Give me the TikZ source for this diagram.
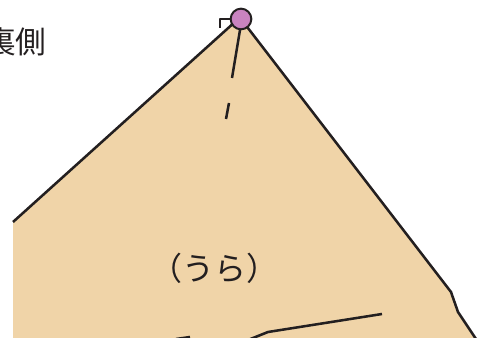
\documentclass[tikz,border=0pt]{standalone}
\usepackage{fontspec}
\newfontfamily\cjk{Noto Sans CJK JP}
\definecolor{paper}{HTML}{F0D4A8}
\definecolor{ink}{HTML}{231F20}
\definecolor{pin}{HTML}{C983C0}
\begin{document}
\begin{tikzpicture}[x=0.75pt,y=-0.75pt,
  edge/.style={draw=ink,line width=1.9pt,line join=round},
  label/.style={font=\cjk\fontsize{23pt}{23pt}\selectfont,text=ink,inner sep=0pt}]
\useasboundingbox (0,0) rectangle (479,338);
\clip (0,0) rectangle (479,338);
% paper fill
\fill[paper] (13,338) -- (13,222) -- (236,21) -- (241,19) -- (451,292) -- (458,312) -- (476,339) -- cycle;
% outline
\draw[edge] (13,222) -- (236,21);
\draw[edge] (241,19) -- (451,292) -- (458,312) -- (476,339);
% small corner marker
\draw[edge,line width=1.5pt] (220,28) -- (220,19) -- (232,19);
% fold lines
\coordinate (c) at (241,19);
\draw[edge] (240,30) -- (232,78);
\draw[edge] (229,103) -- (226,119);
\draw[edge] (248,340) -- (268,332) -- (382,314);
\draw[edge] (176,339) -- (190,337);
% pin
\node[circle,draw=ink,line width=1.5pt,fill=pin,minimum size=15.5pt,inner sep=0pt] (pinhead) at (c) {};
% labels
\node[label] (back) at (16,42) {裏側};
\node[label,font=\cjk\fontsize{24pt}{24pt}\selectfont] (ura) at (214,268) {（うら）};
\end{tikzpicture}
\end{document}
